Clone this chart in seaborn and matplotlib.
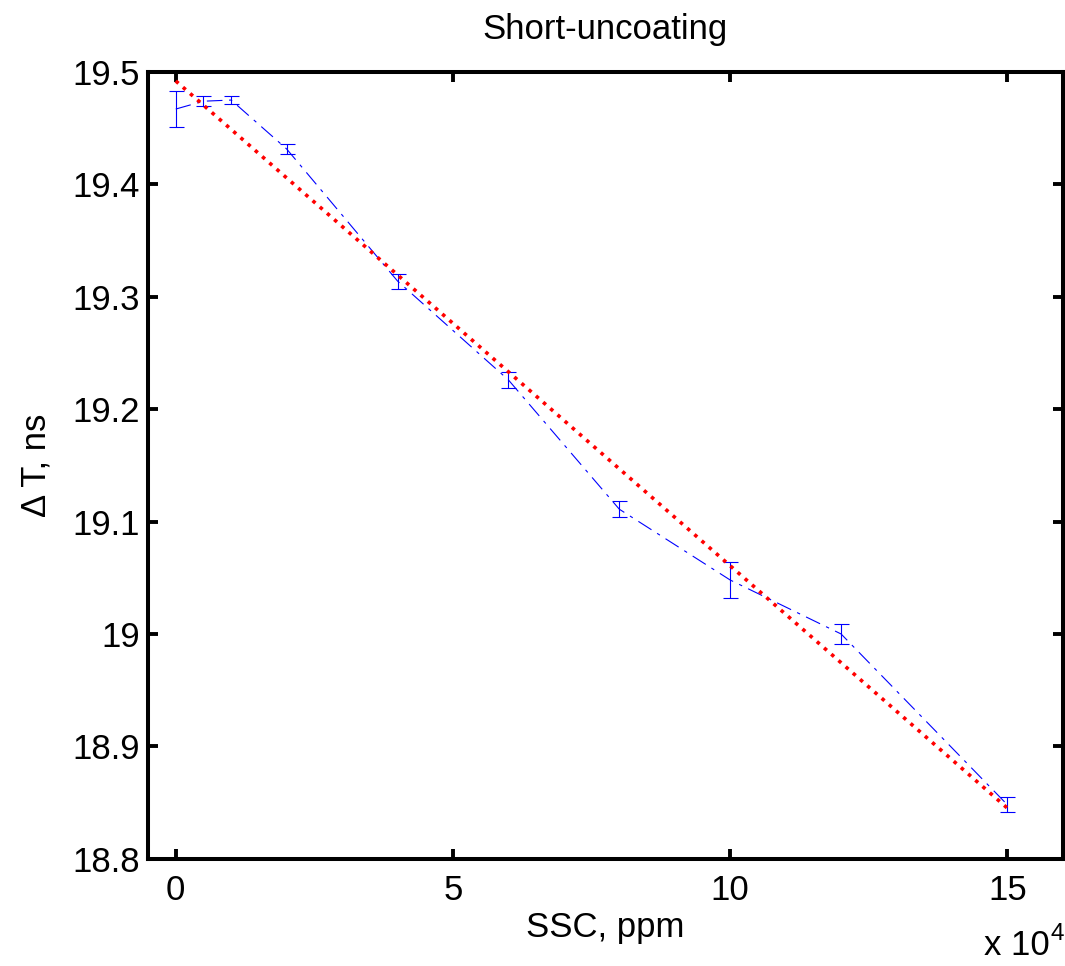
import numpy as np
import pandas as pd
import matplotlib
matplotlib.use("Agg")
import matplotlib.pyplot as plt
import seaborn as sns

# data (x in units of 10^4 ppm)
ssc = [0, 0.5, 1, 2, 4, 6, 8, 10, 12, 15]
dt = [19.467, 19.474, 19.475, 19.4315, 19.314, 19.226, 19.111, 19.048, 19.000, 18.848]
dt_err = [0.016, 0.0045, 0.0036, 0.0045, 0.0067, 0.007, 0.007, 0.016, 0.009, 0.0067]

# linear fit line (end points)
fit_x = [0, 15]
fit_y = [19.492, 18.845]

title = "Short-uncoating"
xlabel = "SSC, ppm"
ylabel = "\u0394 T, ns"
xticks = [0, 5, 10, 15]
yticks = [18.8, 18.9, 19.0, 19.1, 19.2, 19.3, 19.4, 19.5]
ytick_labels = ["18.8", "18.9", "19", "19.1", "19.2", "19.3", "19.4", "19.5"]

sns.set_theme(style="white")
plt.rcParams['font.family'] = ['Liberation Sans', 'DejaVu Sans']

df = pd.DataFrame({"SSC": ssc, "dT": dt})
fit_df = pd.DataFrame({"SSC": fit_x, "dT": fit_y})

fig = plt.figure(figsize=(10.65, 9.66), dpi=100)
ax = fig.add_axes([0.139, 0.111, 0.859, 0.8145])

ax.errorbar(ssc, dt, yerr=dt_err, fmt="none", ecolor=(0, 0, 1), elinewidth=0.8,
            capsize=5.4, capthick=0.8)
sns.lineplot(data=df, x="SSC", y="dT", ax=ax, color=(0, 0, 1), lw=0.8,
             linestyle=(0, (14, 6, 3, 6)), sort=False)
sns.lineplot(data=fit_df, x="SSC", y="dT", ax=ax, color="red", lw=2.6,
             linestyle=":")

ax.set_xlim(-0.5, 16)
ax.set_ylim(18.8, 19.5)
ax.set_xticks(xticks)
ax.set_xticklabels([str(t) for t in xticks])
ax.set_yticks(yticks)
ax.set_yticklabels(ytick_labels)

fs = 25
ax.tick_params(direction="in", length=7, width=2.8, labelsize=fs,
               top=True, right=True, bottom=True, left=True, colors="black")
ax.tick_params(axis="x", pad=11)
ax.tick_params(axis="y", pad=6)
for s in ax.spines.values():
    s.set_linewidth(2.9)
    s.set_color("black")

ax.set_title(title, fontsize=fs, pad=24, color="black")
ax.set_xlabel(xlabel, fontsize=fs, labelpad=3, color="black")
ax.set_ylabel(ylabel, fontsize=fs, labelpad=14, color="black")

ax.text(0.986, -0.122, "x 10", transform=ax.transAxes, ha="right", va="baseline",
        fontsize=fs, color="black")
ax.text(0.987, -0.103, "4", transform=ax.transAxes, ha="left", va="baseline",
        fontsize=fs * 0.7, color="black")

fig.savefig("out.png", dpi=100, facecolor="white")
